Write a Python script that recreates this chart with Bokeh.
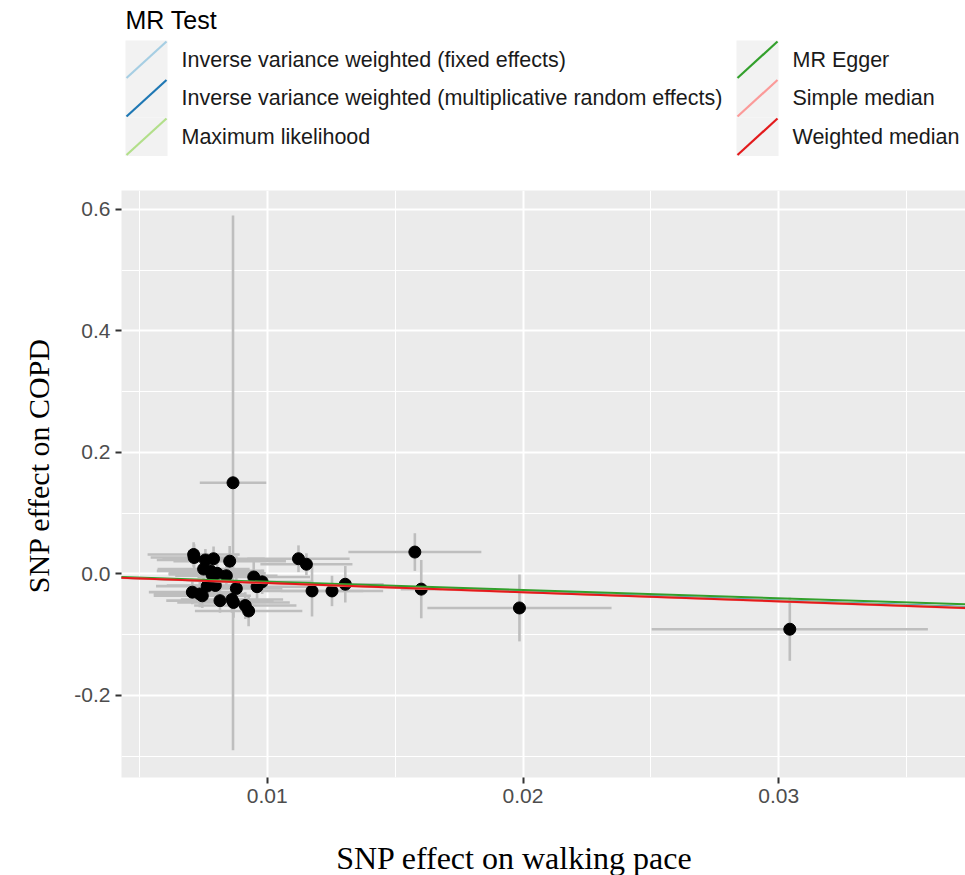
import math
from bokeh.plotting import figure
from bokeh.layouts import column, row
from bokeh.models import Range1d, FixedTicker, PrintfTickFormatter, Slope
from bokeh.embed import file_html
from bokeh.resources import INLINE
from bokeh.core.properties import value

# ---------------- data ----------------
snp_x = [0.00712, 0.00714, 0.00758, 0.00790, 0.00853, 0.00751, 0.00778, 0.00784,
         0.00804, 0.00840, 0.00947, 0.00980, 0.00960, 0.00879, 0.00797, 0.00765,
         0.00707, 0.00736, 0.00746, 0.00815, 0.00862, 0.00868, 0.00914, 0.00927,
         0.01122, 0.01153, 0.01175, 0.01253, 0.01305, 0.01577, 0.01602, 0.01986,
         0.03043, 0.00866]
snp_y = [0.032, 0.027, 0.023, 0.025, 0.021, 0.008, 0.005, -0.001,
         0.001, -0.003, -0.005, -0.013, -0.021, -0.024, -0.019, -0.020,
         -0.030, -0.033, -0.036, -0.044, -0.042, -0.047, -0.052, -0.061,
         0.025, 0.016, -0.028, -0.028, -0.017, 0.036, -0.025, -0.056,
         -0.091, 0.150]
se_x = [0.0018, 0.0017, 0.0019, 0.0020, 0.0022, 0.0018, 0.0021, 0.0017,
        0.0019, 0.0020, 0.0022, 0.0020, 0.0021, 0.0018, 0.0019, 0.0020,
        0.0017, 0.0018, 0.0019, 0.0021, 0.0020, 0.0022, 0.0020, 0.0021,
        0.0020, 0.0018, 0.0020, 0.0020, 0.0015, 0.0026, 0.0008, 0.0036,
        0.0054, 0.0013]
se_y = [0.020, 0.022, 0.018, 0.020, 0.025, 0.020, 0.018, 0.020,
        0.020, 0.022, 0.025, 0.020, 0.024, 0.022, 0.020, 0.018,
        0.020, 0.022, 0.020, 0.020, 0.022, 0.025, 0.022, 0.025,
        0.022, 0.018, 0.042, 0.025, 0.030, 0.031, 0.048, 0.055,
        0.052, 0.440]

methods = ["Inverse variance weighted (fixed effects)",
           "Inverse variance weighted (multiplicative random effects)",
           "Maximum likelihood", "MR Egger", "Simple median", "Weighted median"]
method_colors = ["#A6CEE3", "#1F78B4", "#B2DF8A", "#33A02C", "#FB9A99", "#E31A1C"]
intercepts = [0.0, 0.0, 0.0, 0.0006, 0.0, 0.0]
slopes = [-1.46, -1.46, -1.48, -1.35, -1.52, -1.50]

x_ticks = [0.01, 0.02, 0.03]
x_minor = [0.005, 0.015, 0.025, 0.035]
y_ticks = [-0.2, 0.0, 0.2, 0.4, 0.6]
y_minor = [-0.3, -0.1, 0.1, 0.3, 0.5]

legend_title = "MR Test"
x_title = "SNP effect on walking pace"
y_title = "SNP effect on COPD"

SANS = "Liberation Sans"
SERIF = "Liberation Serif"


def blank(fig):
    fig.axis.visible = False
    fig.grid.visible = False
    fig.outline_line_color = None
    fig.background_fill_color = "white"
    fig.border_fill_color = "white"
    return fig


# ---------------- y-title strip (left) ----------------
ylab = blank(figure(frame_width=60, frame_height=875, x_range=Range1d(0, 60),
                    y_range=Range1d(875, 0), toolbar_location=None, output_backend="svg",
                    min_border=0))
ylab.text(x=[38], y=[465], text=[y_title], angle=math.pi / 2, text_font=value(SERIF),
          text_font_size="30px", text_align="center", text_baseline="middle",
          text_color="black")

# ---------------- legend strip (top) ----------------
leg = blank(figure(frame_width=844, frame_height=190, x_range=Range1d(121, 965),
                   y_range=Range1d(190, 0), toolbar_location=None, output_backend="svg",
                   min_border_left=61, min_border_right=0, min_border_top=0,
                   min_border_bottom=0))
leg.text(x=[125], y=[19], text=[legend_title], text_font=value(SANS),
         text_font_size="25px", text_baseline="middle", text_align="left", text_color="black")

key_w, key_h = 42, 38.5
col_x = [125, 736]
row_top = 40
for i, (m, c) in enumerate(zip(methods, method_colors)):
    col = i // 3
    r = i % 3
    left = col_x[col]
    top = row_top + r * key_h
    leg.quad(left=[left], right=[left + key_w], top=[top], bottom=[top + key_h],
             fill_color="#F2F2F2", line_color=None)
    leg.segment(x0=[left + 1], y0=[top + key_h - 1], x1=[left + key_w - 1], y1=[top + 1],
                line_color=c, line_width=2.2)
    leg.text(x=[left + key_w + 14], y=[top + key_h / 2], text=[m], text_font=value(SANS),
             text_font_size="21.5px", text_baseline="middle", text_align="left",
             text_color="#1A1A1A")

# ---------------- main plot ----------------
p = figure(frame_width=844, frame_height=587,
           x_range=Range1d(0.0043, 0.0373), y_range=Range1d(-0.335, 0.631),
           toolbar_location=None, output_backend="svg",
           min_border_left=61, min_border_right=0, min_border_top=0, min_border_bottom=40)
p.background_fill_color = "#EBEBEB"
p.border_fill_color = "white"
p.outline_line_color = None

p.xaxis.ticker = FixedTicker(ticks=x_ticks, minor_ticks=x_minor)
p.yaxis.ticker = FixedTicker(ticks=y_ticks, minor_ticks=y_minor)
p.xaxis.formatter = PrintfTickFormatter(format="%.2f")
p.yaxis.formatter = PrintfTickFormatter(format="%.1f")
for ax in (p.xaxis, p.yaxis):
    ax.axis_line_color = None
    ax.major_tick_line_color = "#333333"
    ax.major_tick_line_width = 2
    ax.major_tick_out = 6
    ax.major_tick_in = 0
    ax.minor_tick_line_color = None
    ax.major_label_text_font = SANS
    ax.major_label_text_font_size = "21px"
    ax.major_label_text_color = "#4D4D4D"
    ax.major_label_standoff = 5

p.xgrid.grid_line_color = "white"
p.ygrid.grid_line_color = "white"
p.xgrid.grid_line_width = 2
p.ygrid.grid_line_width = 2
p.xgrid.minor_grid_line_color = "white"
p.ygrid.minor_grid_line_color = "white"
p.xgrid.minor_grid_line_width = 1
p.ygrid.minor_grid_line_width = 1

y_lo = [y - s for y, s in zip(snp_y, se_y)]
y_hi = [y + s for y, s in zip(snp_y, se_y)]
x_lo = [x - s for x, s in zip(snp_x, se_x)]
x_hi = [x + s for x, s in zip(snp_x, se_x)]

p.segment(x0=snp_x, y0=y_lo, x1=snp_x, y1=y_hi, line_color="#BEBEBE", line_width=2.6)
p.segment(x0=x_lo, y0=snp_y, x1=x_hi, y1=snp_y, line_color="#BEBEBE", line_width=2.6)
p.scatter(x=snp_x, y=snp_y, size=12, fill_color="black", line_color="black")

for a, b, c in zip(intercepts, slopes, method_colors):
    p.add_layout(Slope(gradient=b, y_intercept=a, line_color=c, line_width=2))

# ---------------- x-title strip (bottom) ----------------
xlab = blank(figure(frame_width=844, frame_height=58, x_range=Range1d(121, 965),
                    y_range=Range1d(875, 817), toolbar_location=None, output_backend="svg",
                    min_border_left=61, min_border_right=0, min_border_top=0,
                    min_border_bottom=0))
xlab.text(x=[514], y=[857], text=[x_title], text_font=value(SERIF),
          text_font_size="32px", text_align="center", text_baseline="middle",
          text_color="black")

layout = row(ylab, column(leg, p, xlab, spacing=0), spacing=0)
open("out.html", "w").write(file_html(layout, INLINE))
